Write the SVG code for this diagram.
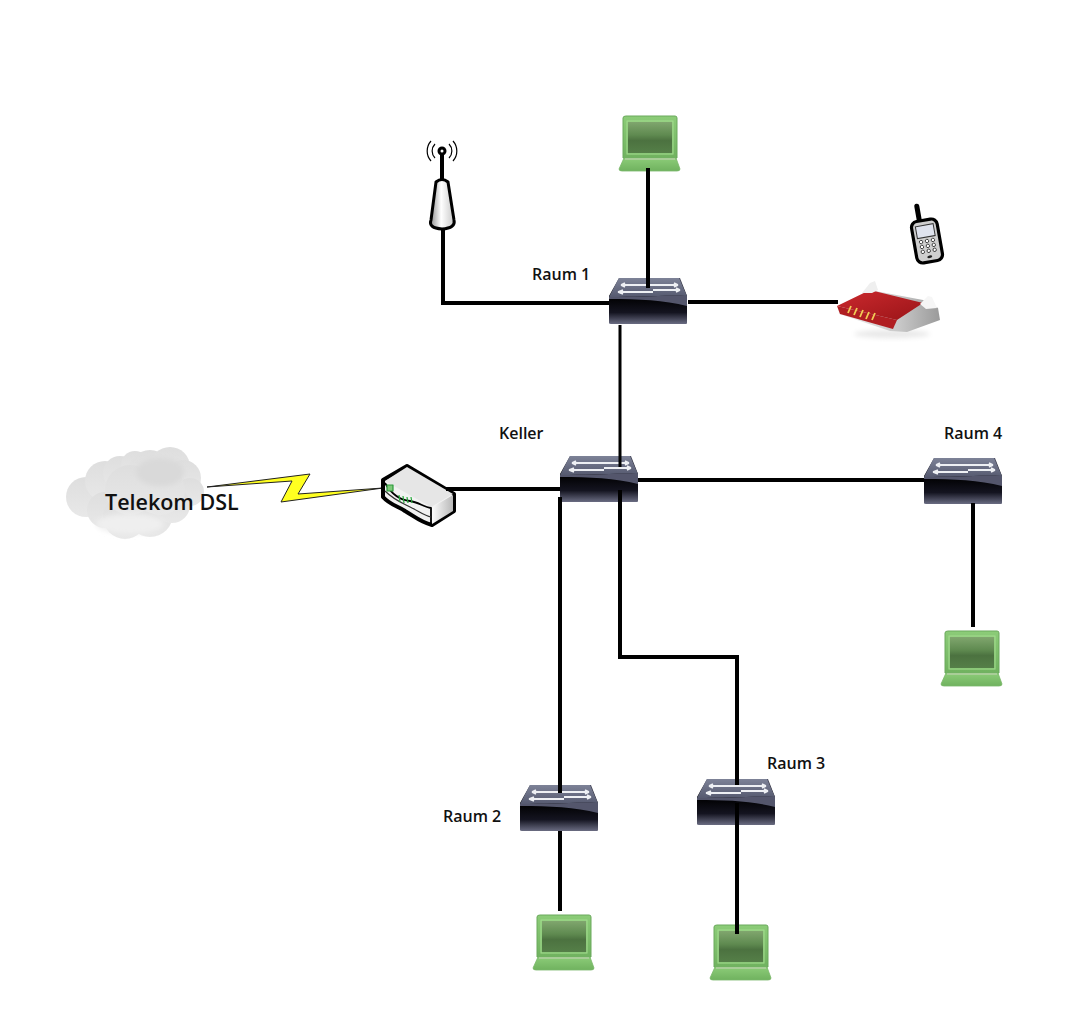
<svg xmlns="http://www.w3.org/2000/svg" width="1072" height="1021" viewBox="0 0 1072 1021">
<style>
.lbl{font-family:"Open Sans","Liberation Sans",sans-serif;font-weight:600;font-size:16px;fill:#111}
.big{font-family:"Open Sans","Liberation Sans",sans-serif;font-weight:600;font-size:21.500px;fill:#111}
.wire{fill:none;stroke:#000;stroke-width:4}
.thin{stroke-width:3}
.arr{fill:none;stroke:#eef0f4;stroke-width:1.800}
</style>
<defs>
<linearGradient id="swTop" x1="0" y1="0" x2="0" y2="1"><stop offset="0" stop-color="#7d8297"/><stop offset="1" stop-color="#565a70"/></linearGradient>
<linearGradient id="swFront" x1="0" y1="0" x2="0" y2="1"><stop offset="0" stop-color="#4a4c60"/><stop offset=".25" stop-color="#1a1a24"/><stop offset=".45" stop-color="#020204"/><stop offset=".75" stop-color="#141420"/><stop offset="1" stop-color="#6a6c82"/></linearGradient>
<linearGradient id="lapBody" x1="0" y1="0" x2="0" y2="1"><stop offset="0" stop-color="#8ccc78"/><stop offset="1" stop-color="#70b25f"/></linearGradient>
<linearGradient id="lapScreen" x1="0" y1="0" x2="0" y2="1"><stop offset="0" stop-color="#80a66e"/><stop offset=".42" stop-color="#5f8a50"/><stop offset=".6" stop-color="#4c7240"/><stop offset="1" stop-color="#557f48"/></linearGradient>
<linearGradient id="cloudG" x1="0" y1="0" x2="0" y2="1"><stop offset="0" stop-color="#dedede"/><stop offset="1" stop-color="#e8e8e8"/></linearGradient>
<linearGradient id="antG" x1="0" y1="0" x2="1" y2="0"><stop offset="0" stop-color="#8f8f8f"/><stop offset=".45" stop-color="#fff"/><stop offset="1" stop-color="#c8c8c8"/></linearGradient>
<linearGradient id="redG" x1="0" y1="0" x2="1" y2="1"><stop offset="0" stop-color="#cc2a2e"/><stop offset="1" stop-color="#9a1418"/></linearGradient>
<linearGradient id="silverG" x1="0" y1="0" x2="1" y2="0"><stop offset="0" stop-color="#f4f4f4"/><stop offset=".6" stop-color="#c8c8c8"/><stop offset="1" stop-color="#9a9a9a"/></linearGradient>
<linearGradient id="modemR" x1="0" y1="0" x2="1" y2="0"><stop offset="0" stop-color="#fff"/><stop offset="1" stop-color="#b8b8b8"/></linearGradient>
<linearGradient id="boltG" x1="207" y1="0" x2="383" y2="0" gradientUnits="userSpaceOnUse"><stop offset="0" stop-color="#222"/><stop offset=".1" stop-color="#ffff20"/><stop offset=".9" stop-color="#ffff20"/><stop offset="1" stop-color="#333"/></linearGradient>
<filter id="soft" x="-10%" y="-10%" width="120%" height="120%"><feGaussianBlur stdDeviation="0.6"/></filter>
<filter id="softer" x="-20%" y="-40%" width="140%" height="180%"><feGaussianBlur stdDeviation="2.500"/></filter>
<g id="switch">
<path d="M10 0H71L78 18V45Q78 46 77 46H2Q0 46 0 45V18Z" fill="url(#swFront)"/>
<path d="M10 0H70L78 18C55 17 30 19 0 19Z" fill="url(#swTop)"/>
<path d="M0 19C30 19 55 17 78 18V28C55 22 30 21 0 21Z" fill="#54566c"/>
<path class="arr" d="M12 7H69M12 7L16 5M12 7L16 9M69 7L65 5M69 7L65 9"/>
<path class="arr" d="M9 14H44M9 14L14 12M9 14L14 16M44 12H71M71 12L67 10M71 12L67 14"/>
</g>
<g id="laptop">
<path d="M4 3Q4 1 7 1H56Q58 1 58 3V43H4Z" fill="url(#lapBody)" stroke="#6aa95c"/>
<rect x="8" y="6" width="46" height="33" fill="none" stroke="#a4dc90"/>
<rect x="9" y="7" width="44" height="31" fill="url(#lapScreen)"/>
<path d="M5 43H57L61 54Q61 56 58 56H3Q0 56 0 54Z" fill="url(#lapBody)" stroke="#7ab86a" stroke-width=".8"/>
<path d="M6 44H56" stroke="#b4cfa4" stroke-width="1.500"/>
</g>
</defs>
<rect width="1072" height="1021" fill="#fff"/>

<g id="cloud" filter="url(#soft)">
<g fill="url(#cloudG)">
<circle cx="86" cy="497" r="20"/><circle cx="105" cy="481" r="20"/><circle cx="120" cy="473" r="17"/><circle cx="135" cy="465" r="14"/>
<circle cx="150" cy="472" r="22"/><circle cx="170" cy="467" r="20"/><circle cx="183" cy="478" r="18"/><circle cx="190" cy="492" r="14"/>
<circle cx="105" cy="510" r="18"/><circle cx="125" cy="517" r="22"/><circle cx="150" cy="514" r="23"/><circle cx="172" cy="505" r="18"/><circle cx="130" cy="490" r="25"/><circle cx="160" cy="490" r="25"/>
</g>
<ellipse cx="160" cy="472" rx="24" ry="14" fill="#d9d9d9" filter="url(#softer)"/>
<ellipse cx="130" cy="524" rx="34" ry="10" fill="#efefef" filter="url(#softer)"/>
</g>
<text class="big" x="105" y="510">Telekom DSL</text>

<g id="bolt">
<path d="M207 487L310 474L298 494L383 488L281 502L292 481Z" fill="url(#boltG)" stroke="#222" stroke-width="1"/>
</g>

<g id="modem" stroke-linejoin="round">
<path d="M407 466L454 494V511L432 525C420 522 414 516 405 511C398 506 390 505 383 497V480Z" fill="#f2f2f2" stroke="#000" stroke-width="4"/>
<path d="M407 467L453 494L431 507L385 481Z" fill="#e6e6e6"/>
<path d="M431 508L453 495V511L432 524Z" fill="url(#modemR)"/>
<path d="M385 483C392 495 400 500 410 501C418 502 424 507 431 508V524" fill="none" stroke="#000" stroke-width="1.800"/>
<path d="M385 491C395 501 405 504 412 508C420 512 425 516 431 517" fill="none" stroke="#333" stroke-width="1.200"/>
<path d="M387 485h6v6h-6z" fill="#7fc97a" stroke="#2a9a3a" stroke-width="1.200"/>
<path d="M399 495l1 7M403 496l1 7M407 497l1 6M411 497l1 6" stroke="#25a83a" stroke-width="1.200" fill="none"/>
</g>

<g id="antenna" fill="none" stroke="#000">
<path d="M442 151V180" stroke-width="4"/>
<circle cx="442" cy="151" r="3" fill="#fff" stroke-width="3"/>
<path d="M435 144a10 10 0 0 0 0 14M449 144a10 10 0 0 1 0 14M431 141a15 15 0 0 0 0 20M453 141a15 15 0 0 1 0 20" stroke-width="1.200"/>
<path d="M436 182Q442 177 448 182L454 220Q456 228 442 229Q428 228 431 220Z" fill="url(#antG)" stroke-width="3"/>
</g>

<g id="phone" transform="rotate(-10 927 241)">
<path d="M923 222V205" stroke="#000" stroke-width="5" stroke-linecap="round"/>
<rect x="914" y="220" width="26" height="42" rx="6" fill="#cfcfcf" stroke="#000" stroke-width="3.200"/>
<rect x="918" y="225" width="18" height="12" fill="#dfe3ee" stroke="#333"/>
<g fill="#fff" stroke="#222" stroke-width=".8">
<circle cx="921" cy="241" r="1.700"/><circle cx="927" cy="241" r="1.700"/><circle cx="933" cy="241" r="1.700"/>
<circle cx="921" cy="246" r="1.700"/><circle cx="927" cy="246" r="1.700"/><circle cx="933" cy="246" r="1.700"/>
<circle cx="921" cy="251" r="1.700"/><circle cx="927" cy="251" r="1.700"/><circle cx="933" cy="251" r="1.700"/>
</g>
<ellipse cx="927" cy="257" rx="2.500" ry="1.300" fill="#222"/>
</g>

<g id="fritzbox">
<ellipse cx="892" cy="334" rx="38" ry="4" fill="#e8e8e8" filter="url(#softer)"/>
<path d="M838 306L839 314L890 331L907 332L940 320L938 308L923 300L870 290Z" fill="url(#silverG)"/>
<path d="M837 306L870 290L923 303L897 320Z" fill="url(#redG)"/>
<path d="M837 306L897 320L893 329L840 314Z" fill="#b01e22"/>
<path d="M862 293L870 283L875 281L878 290L872 293Z" fill="#efefef"/>
<path d="M920 304L928 296L932 297L937 308L926 309Z" fill="#f6f6f6"/>
<path d="M851 306l-3 7M857 308l-3 7M863 310l-3 7M869 312l-3 7M875 313l-3 7" stroke="#f2cc55" stroke-width="1.800" fill="none"/>
</g>

<g id="raum1"><use href="#switch" x="609" y="278"/><text class="lbl" x="532" y="280">Raum 1</text></g>
<g id="keller"><use href="#switch" x="560" y="456"/><text class="lbl" x="499" y="439">Keller</text></g>
<g id="raum4"><use href="#switch" x="924" y="458"/><text class="lbl" x="944" y="439">Raum 4</text></g>
<g id="raum2"><use href="#switch" x="520" y="785"/><text class="lbl" x="443" y="822">Raum 2</text></g>
<g id="raum3"><use href="#switch" x="697" y="779"/><text class="lbl" x="767" y="769">Raum 3</text></g>

<g id="laptop1"><use href="#laptop" x="619" y="115"/></g>
<g id="laptop2"><use href="#laptop" x="941" y="630"/></g>
<g id="laptop3"><use href="#laptop" x="533" y="914"/></g>
<g id="laptop4"><use href="#laptop" x="710" y="924"/></g>

<g id="connectors">
<path class="wire" d="M443 228V303H609"/>
<path class="wire" d="M648 168V288"/>
<path class="wire" d="M688 302H838"/>
<path class="wire thin" d="M620 325V467"/>
<path class="wire" d="M446 489H560"/>
<path class="wire" d="M638 480H924"/>
<path class="wire" d="M973 503V627"/>
<path class="wire" d="M560 497V793"/>
<path class="wire" d="M620 490V657H737V785"/>
<path class="wire" d="M560 831V911"/>
<path class="wire" d="M737 803V934"/>
</g>
</svg>
